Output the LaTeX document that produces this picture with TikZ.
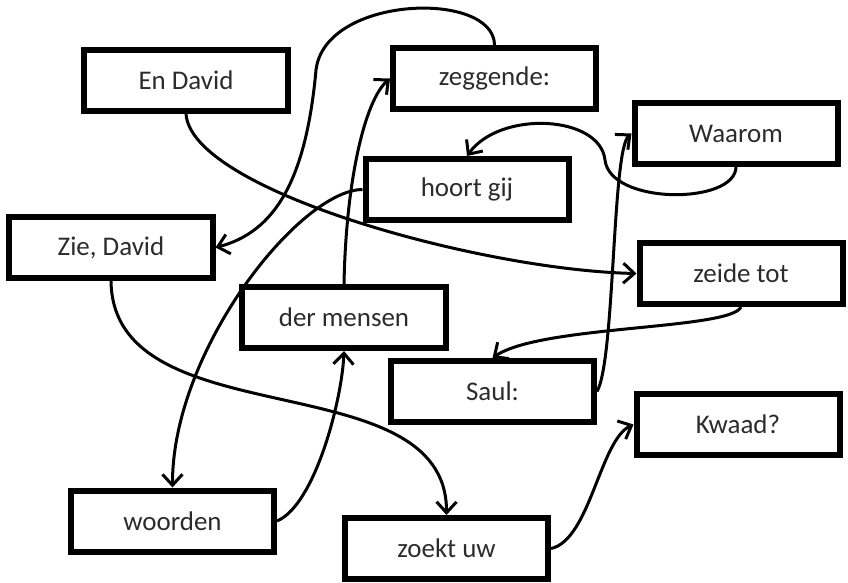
\documentclass[tikz,border=0pt]{standalone}
\usepackage{fontspec}
\setmainfont{Carlito}
\usepackage{tikz}
\usetikzlibrary{arrows.meta}
\definecolor{WordInk}{HTML}{2B2B2B}
\tikzset{
  % Word box: thick black frame
  wbox/.style={
    rectangle, draw=black, line width=0.18cm,
    minimum width=6.09cm, minimum height=1.83cm, inner sep=0pt,
    align=center, font=\fontsize{23}{26}\selectfont, text=WordInk
  },
  % Arrow
  arr/.style={
    -{Straight Barb[length=0.33cm,width=0.6cm]},
    line width=0.09cm, color=black
  }
}

\begin{document}
\begin{tikzpicture}[x=0.03cm, y=-0.03cm]

  \useasboundingbox (0,0) rectangle (848,582);

  % Word boxes
  \node[wbox] (endavid)   at (186,80)      {En David};
  \node[wbox] (zeggende)  at (494.5,78.5)  {zeggende:};
  \node[wbox] (hoortgij)  at (467,189.5)   {hoort gij};
  \node[wbox] (waarom)    at (736,133.5)   {Waarom};
  \node[wbox] (ziedavid)  at (111,247.5)   {Zie, David};
  \node[wbox] (zeidetot)  at (741,273.5)   {zeide tot};
  \node[wbox] (dermensen) at (344,317.5)   {der mensen};
  \node[wbox] (saul)      at (492.5,391.5) {Saul:};
  \node[wbox] (kwaad)     at (738,424.5)   {Kwaad?};
  \node[wbox] (woorden)   at (172.5,521)   {woorden};
  \node[wbox] (zoektuw)   at (446.5,548.5) {zoekt uw};

  % Reading order
  \draw[arr] (endavid.south) .. controls (190,190) and (480,270) .. (zeidetot.west);
  \draw[arr] (zeggende.north) .. controls (494,-10) and (325,-5) .. (316,70)
                              .. controls (306,180) and (275,232) .. (ziedavid.east);
  \draw[arr] (hoortgij.west) .. controls (300,190) and (172,350) .. (woorden.north);
  \draw[arr] (woorden.east) .. controls (315,505) and (342,400) .. (dermensen.south);
  \draw[arr] (dermensen.north) .. controls (346,180) and (365,100) .. (zeggende.west);
  \draw[arr] (waarom.south) .. controls (735,205) and (610,205) .. (605,160)
                            .. controls (600,115) and (500,110) .. (hoortgij.north);
  \draw[arr] (zeidetot.south) .. controls (730,330) and (540,325) .. (saul.north);
  \draw[arr] (saul.east) .. controls (615,360) and (612,150) .. (waarom.west);
  \draw[arr] (ziedavid.south) .. controls (113,440) and (447,360) .. (zoektuw.north);
  \draw[arr] (zoektuw.east) .. controls (590,540) and (600,440) .. (kwaad.west);

\end{tikzpicture}
\end{document}
